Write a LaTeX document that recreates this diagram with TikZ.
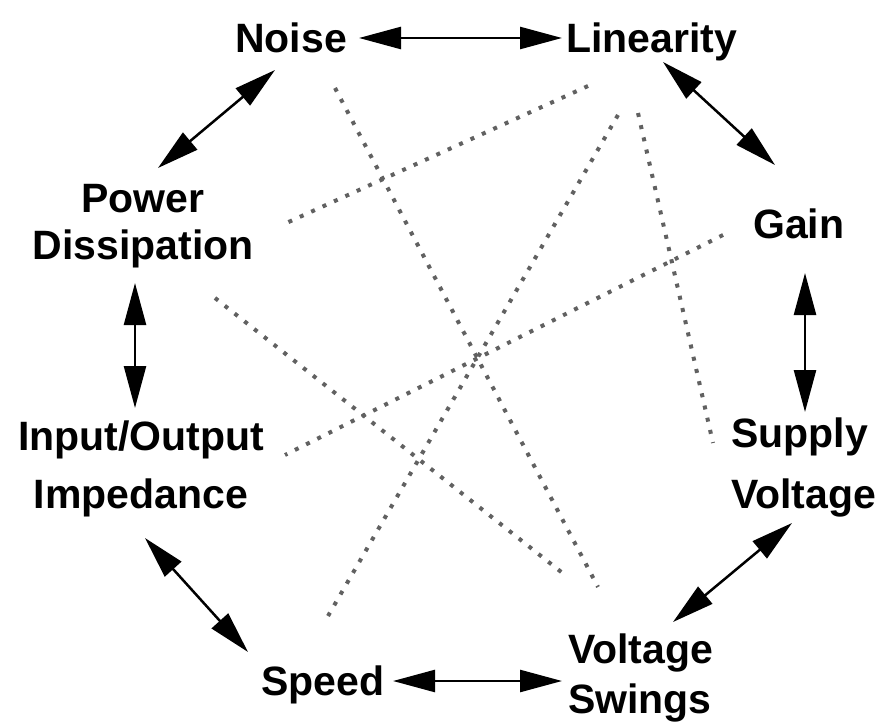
\documentclass[tikz,border=0pt]{standalone}
\usepackage{fontspec}
\setmainfont{Liberation Sans}
\usetikzlibrary{arrows.meta}
\begin{document}
\begin{tikzpicture}[x=1pt,y=-1pt,
  lbl/.style={inner sep=0pt, font=\fontsize{41}{#1}\selectfont\bfseries},
  lbl/.default=47,
  rel/.style={line width=2.5pt, {Triangle[length=42pt,width=22pt]}-{Triangle[length=42pt,width=22pt]}},
  dep/.style={line width=4pt, black!62, dash pattern=on 4pt off 8.5pt}]
\useasboundingbox (0,0) rectangle (877,727);

% labels
\node[lbl, anchor=base west] (noise) at (235,53) {Noise};
\node[lbl, anchor=base west] (lin) at (566,53) {Linearity};
\node[lbl, anchor=base west] (gain) at (753,238) {Gain};
\node[lbl=61, anchor=base west] (supply) at (731,447) {\begin{tabular}[t]{@{}l@{}}Supply\\Voltage\end{tabular}};
\node[lbl=50, anchor=base west] (swing) at (568,663) {\begin{tabular}[t]{@{}l@{}}Voltage\\Swings\end{tabular}};
\node[lbl, anchor=base west] (speed) at (261,695) {Speed};
\node[lbl=58, anchor=base] (io) at (141,450) {\begin{tabular}[t]{@{}c@{}}Input/Output\\Impedance\end{tabular}};
\node[lbl=47, anchor=base] (pd) at (143,213) {\begin{tabular}[t]{@{}c@{}}Power\\Dissipation\end{tabular}};

% connector end points
\coordinate (noiseE) at (359,38);
\coordinate (linW) at (562,38);
\coordinate (noiseSW) at (275,70);
\coordinate (pdN) at (158,168);
\coordinate (linSE) at (663,62);
\coordinate (gainN) at (775,165);
\coordinate (gainS) at (805,273);
\coordinate (supplyN) at (805,412);
\coordinate (supplyS) at (792,523);
\coordinate (swingN) at (673,622);
\coordinate (speedE) at (393,681);
\coordinate (swingW) at (562,681);
\coordinate (ioS) at (145,538);
\coordinate (speedNW) at (248,652);
\coordinate (pdS) at (135,283);
\coordinate (ioN) at (135,408);

\coordinate (linA) at (588,86);
\coordinate (pdA) at (282,225);
\coordinate (linB) at (618,115);
\coordinate (speedB) at (328,616);
\coordinate (linC) at (638,113);
\coordinate (supplyC) at (713,443);
\coordinate (gainD) at (723,235);
\coordinate (ioD) at (285,455);
\coordinate (noiseE2) at (335,88);
\coordinate (swingE) at (598,587);
\coordinate (pdF) at (215,298);
\coordinate (swingF) at (565,575);

% strong relations
\draw[rel] (noiseE) -- (linW);
\draw[rel] (noiseSW) -- (pdN);
\draw[rel] (linSE) -- (gainN);
\draw[rel] (gainS) -- (supplyN);
\draw[rel] (supplyS) -- (swingN);
\draw[rel] (speedE) -- (swingW);
\draw[rel] (ioS) -- (speedNW);
\draw[rel] (pdS) -- (ioN);

% weak relations
\draw[dep] (linA) -- (pdA);
\draw[dep] (linB) -- (speedB);
\draw[dep] (linC) -- (supplyC);
\draw[dep] (gainD) -- (ioD);
\draw[dep] (noiseE2) -- (swingE);
\draw[dep] (pdF) -- (swingF);
\end{tikzpicture}
\end{document}
